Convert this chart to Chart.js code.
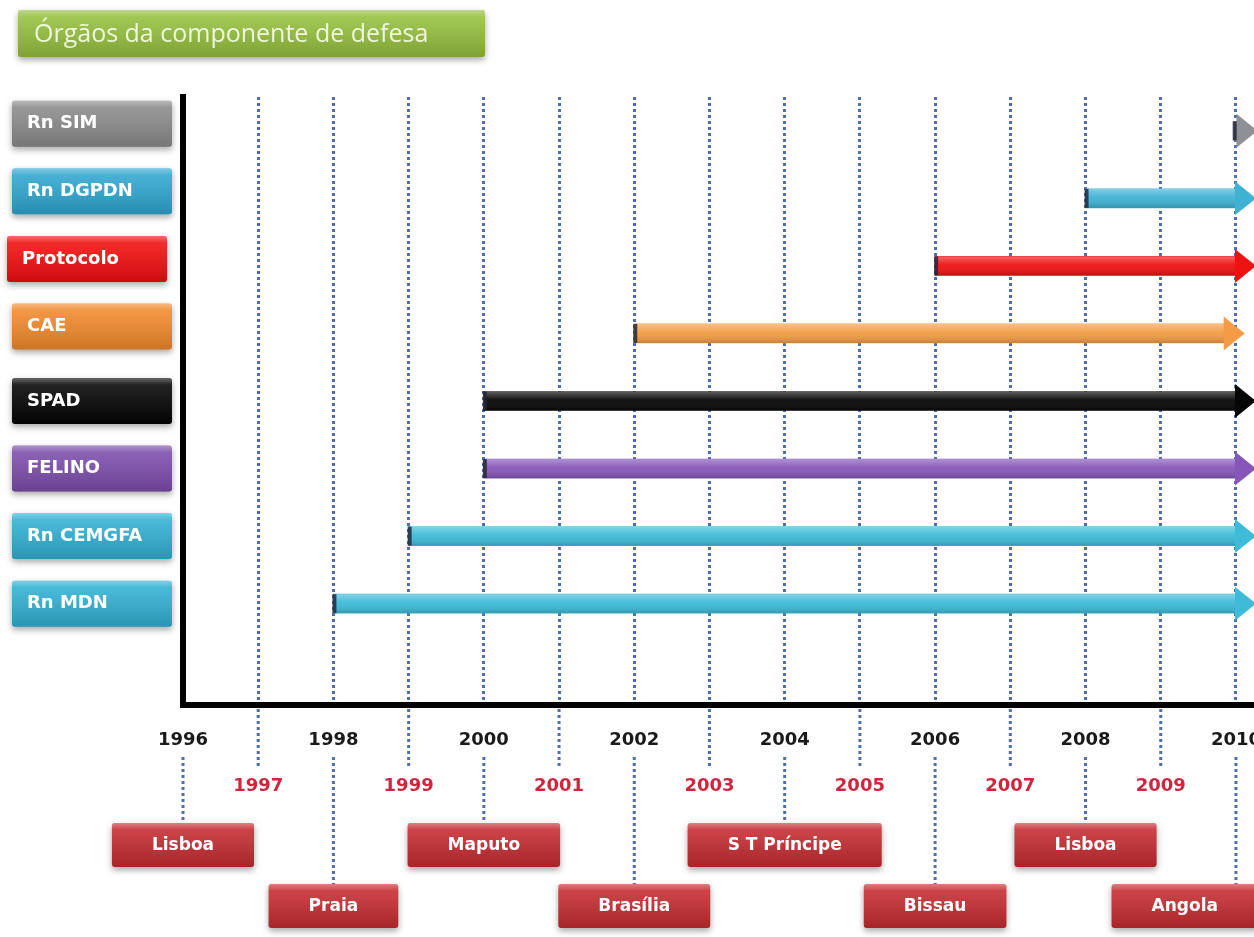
<!DOCTYPE html>
<html>
<head>
<meta charset="utf-8">
<script src="https://cdn.jsdelivr.net/npm/chart.js@4.4.1/dist/chart.umd.min.js"></script>
<style>
  html, body { margin: 0; padding: 0; background: #fff; }
</style>
</head>
<body>
<canvas id="timeline" width="1254" height="937"></canvas>
<script>
var chartTitle = 'Órgãos da componente de defesa';
var rows = ['Rn SIM', 'Rn DGPDN', 'Protocolo', 'CAE', 'SPAD', 'FELINO', 'Rn CEMGFA', 'Rn MDN'];
var startYear = [2009.97, 2008, 2006, 2002, 2000, 2000, 1999, 1998];
var endYear = [2010.02, 2010, 2010, 2009.85, 2010, 2010, 2010, 2010];
var meetingYears = [1996, 1998, 2000, 2002, 2004, 2006, 2008, 2010];
var meetingCities = ['Lisboa', 'Praia', 'Maputo', 'Brasília', 'S T Príncipe', 'Bissau', 'Lisboa', 'Angola'];
var firstYear = 1996, lastYear = 2010;

var rowColors = ['#8d9196', '#3fb2d4', '#ee1212', '#f39c45', '#060606', '#8656b8', '#3dbbd8', '#3dbbd8'];
var boxColors = ['#8a8a8a', '#2ea6cf', '#f20d0d', '#f1892a', '#030303', '#7b4cab', '#2fb0d2', '#2fb0d2'];
var dotColor = '#4d70ad';
var oddRed = '#d0253f';

function tile(ctx, x, y, w, h, color) {
    ctx.save();
    ctx.shadowColor = 'rgba(0,0,0,0.35)';
    ctx.shadowBlur = 6;
    ctx.shadowOffsetY = 3;
    ctx.fillStyle = color;
    ctx.beginPath(); ctx.roundRect(x, y, w, h, 3); ctx.fill();
    ctx.restore();
    var g = ctx.createLinearGradient(0, y, 0, y + h);
    g.addColorStop(0, 'rgba(255,255,255,0.4)');
    g.addColorStop(0.15, 'rgba(255,255,255,0.12)');
    g.addColorStop(1, 'rgba(0,0,0,0.15)');
    ctx.fillStyle = g;
    ctx.beginPath(); ctx.roundRect(x, y, w, h, 3); ctx.fill();
}

function dotted(ctx, x, y1, y2) {
    ctx.save();
    ctx.strokeStyle = dotColor;
    ctx.lineWidth = 3;
    ctx.setLineDash([3, 3]);
    ctx.beginPath(); ctx.moveTo(x, y1); ctx.lineTo(x, y2); ctx.stroke();
    ctx.restore();
}

var decor = {
    id: 'decor',
    beforeDraw: function (chart) {
        var ctx = chart.ctx;
        tile(ctx, 18, 10, 467, 47, '#94bf3c');
        ctx.fillStyle = '#eef6dc';
        ctx.font = '25px "Open Sans"';
        ctx.textBaseline = 'middle';
        ctx.textAlign = 'left';
        ctx.fillText(chartTitle, 34, 35);
    },
    afterDatasetsDraw: function (chart) {
        var ctx = chart.ctx, meta = chart.getDatasetMeta(0);
        meta.data.forEach(function (bar, i) {
            if (i >= rows.length) return;
            var p = bar.getProps(['x', 'y', 'base', 'height'], true);
            var top = p.y - p.height / 2;
            var g = ctx.createLinearGradient(0, top, 0, top + p.height);
            g.addColorStop(0, 'rgba(255,255,255,0.35)');
            g.addColorStop(0.45, 'rgba(255,255,255,0.05)');
            g.addColorStop(1, 'rgba(0,0,0,0.18)');
            ctx.fillStyle = g;
            ctx.fillRect(p.base, top, p.x - p.base, p.height);
            ctx.fillStyle = rowColors[i];
            ctx.beginPath();
            ctx.moveTo(p.x - 1, p.y - 17);
            ctx.lineTo(p.x + 20, p.y);
            ctx.lineTo(p.x - 1, p.y + 17);
            ctx.closePath();
            ctx.fill();
            ctx.fillStyle = 'rgba(35,40,55,0.85)';
            ctx.fillRect(p.base - 1, top, 4, p.height);
        });
    },
    afterDraw: function (chart) {
        var ctx = chart.ctx, xs = chart.scales.x, ys = chart.scales.y;
        var bottom = chart.chartArea.bottom;

        // row name tiles on the left
        rows.forEach(function (name, i) {
            var cy = ys.getPixelForValue(i) - (i < 4 ? 7 : 0);
            var x = name === 'Protocolo' ? 7 : 12;
            tile(ctx, x, cy - 23, 160, 46, boxColors[i]);
            ctx.fillStyle = '#fff';
            ctx.font = 'bold 18px "DejaVu Sans"';
            ctx.textBaseline = 'middle';
            ctx.textAlign = 'left';
            ctx.fillText(name, x + 15, cy);
        });

        // dotted leaders under the axis for odd years
        for (var y = firstYear; y <= lastYear; y++) {
            if (y % 2) dotted(ctx, xs.getPixelForValue(y), bottom + 4, bottom + 62);
        }

        // meeting boxes
        meetingYears.forEach(function (yr, i) {
            var x = xs.getPixelForValue(yr);
            var top = i % 2 ? bottom + 179 : bottom + 118;
            dotted(ctx, x, bottom + 52, top);
            ctx.font = 'bold 17px "DejaVu Sans"';
            var w = Math.max(115, ctx.measureText(meetingCities[i]).width + 80);
            var left = x - w / 2;
            if (left + w > chart.width + 4) left = chart.width + 4 - w;
            tile(ctx, left, top, w, 44, '#c42a2f');
            ctx.fillStyle = '#fff';
            ctx.textBaseline = 'middle';
            ctx.textAlign = 'center';
            ctx.fillText(meetingCities[i], left + w / 2, top + 23);
        });
    }
};

var spans = rows.map(function (r, i) { return [startYear[i], endYear[i]]; });

var ctx = document.getElementById('timeline').getContext('2d');
var myChart = new Chart(ctx, {
    type: 'bar',
    data: {
        // spare empty slot under the last row, like the source drawing
        labels: rows.concat(['']),
        datasets: [{
            data: spans.concat([null]),
            backgroundColor: rowColors,
            barThickness: 19,
            borderWidth: 0
        }]
    },
    options: {
        indexAxis: 'y',
        responsive: false,
        animation: false,
        layout: { padding: { left: 183, top: 97, right: 0, bottom: 0 } },
        plugins: {
            legend: { display: false },
            tooltip: { enabled: false }
        },
        scales: {
            x: {
                type: 'linear',
                min: firstYear,
                max: 2010.24,
                grid: { color: dotColor, lineWidth: 3, drawTicks: false },
                border: { display: true, color: '#000', width: 6, dash: [3, 3] },
                ticks: {
                    stepSize: 1,
                    includeBounds: false,
                    autoSkip: false,
                    maxRotation: 0,
                    padding: 12,
                    font: { family: 'DejaVu Sans', weight: 'bold', size: 18, lineHeight: '46px' },
                    color: function (c) { return c.tick.value % 2 ? oddRed : '#1a1a1a'; },
                    callback: function (v) {
                        return v % 2 ? ['', String(v)] : [String(v), ''];
                    }
                },
                afterFit: function (s) { s.height = 232; s.paddingLeft = 0; s.paddingRight = 0; }
            },
            y: {
                type: 'category',
                grid: { display: false },
                border: { display: true, color: '#000', width: 6 },
                ticks: { display: false },
                afterFit: function (s) { s.width = 0; }
            }
        }
    },
    plugins: [decor]
});
</script>
</body>
</html>
